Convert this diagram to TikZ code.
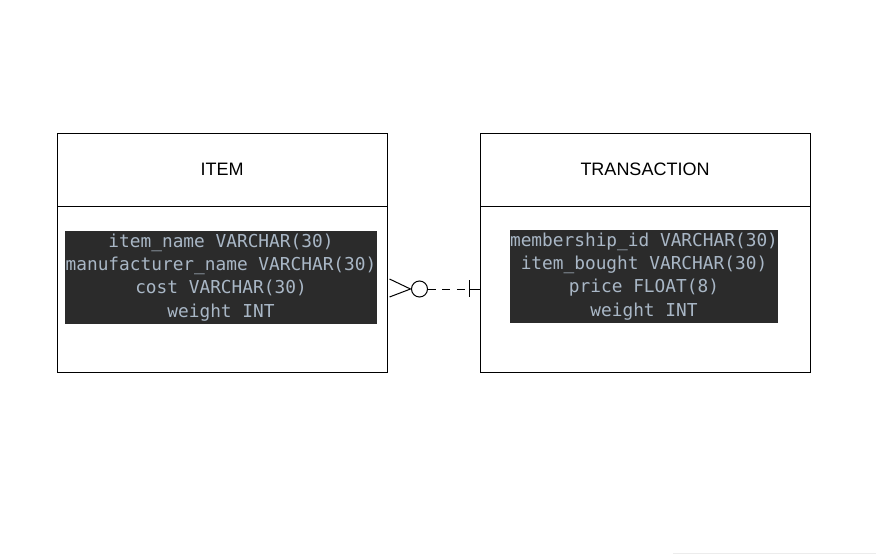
\documentclass[tikz,border=0pt]{standalone}
\usepackage{fontspec}
\setmainfont{Liberation Sans}
\newfontfamily\codefont{DejaVu Sans Mono}
\usetikzlibrary{calc}
\definecolor{codebg}{HTML}{2B2B2B}
\definecolor{codefg}{HTML}{A9B7C6}
\tikzset{
  x=0.75pt, y=-0.75pt,
  every path/.style={line width=0.75pt},
  hdr/.style={draw=black, line width=0.75pt, minimum width=247.5pt, minimum height=54.75pt, inner sep=0pt, font=\fontsize{13.5}{16}\selectfont},
  bodybox/.style={draw=black, line width=0.75pt, minimum width=247.5pt, minimum height=124.5pt, inner sep=0pt},
  code/.style={fill=codebg, text=codefg, align=center, inner xsep=0.4pt, inner ysep=2pt,
    font=\codefont\fontsize{13.35}{17.4}\selectfont},
  conn/.style={line width=0.75pt, black}
}
\begin{document}
\begin{tikzpicture}
\useasboundingbox (0,0) rectangle (876,554);
\fill[white] (0,0) rectangle (876,554);
% ITEM entity
\node[hdr] (itemhead) at (222,169.5) {ITEM};
\node[bodybox] (itembody) at (222,289) {};
\node[code] (itemcode) at (221,277.5) {item\_name VARCHAR(30)\\manufacturer\_name VARCHAR(30)\\cost VARCHAR(30)\\weight INT};
% TRANSACTION entity
\node[hdr] (transhead) at (645,169.5) {TRANSACTION};
\node[bodybox] (transbody) at (645,289) {};
\node[code] (transcode) at (644,276.5) {membership\_id VARCHAR(30)\\item\_bought VARCHAR(30)\\price FLOAT(8)\\weight INT};
% relationship connector
\coordinate (crowtip) at ($(itembody.east)+(23,0)$);
\coordinate (circ) at ($(itembody.east)+(32,0)$);
\coordinate (bar) at ($(transbody.west)+(-10,0)$);
\draw[conn] ($(itembody.east)+(2,-10)$) -- (crowtip) -- ($(itembody.east)+(2,8)$);
\draw[conn] (circ) circle[radius=6pt];
\draw[conn, dash pattern=on 6pt off 5pt] ($(circ)+(8,0)$) -- (bar);
\draw[conn] (bar) -- (transbody.west);
\draw[conn] ($(bar)+(0,-9)$) -- ($(bar)+(0,8)$);
% faint line at bottom edge
\draw[gray!15, line width=0.75pt] (673,553) -- (876,553);
\end{tikzpicture}
\end{document}
